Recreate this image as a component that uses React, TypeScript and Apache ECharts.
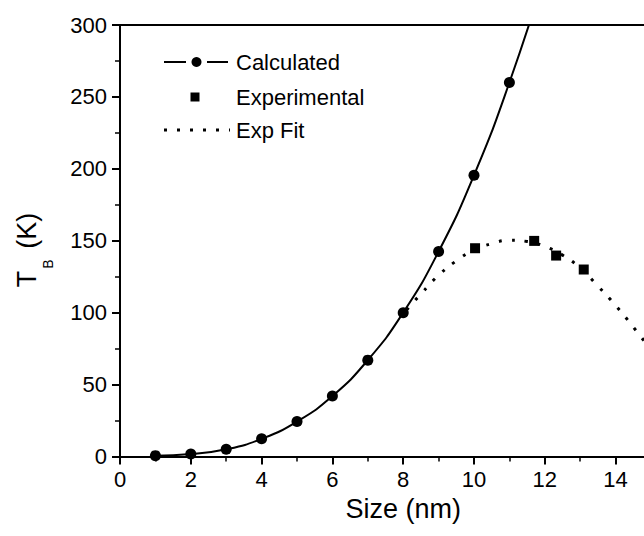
import { useEffect, useRef } from "react";
import * as echarts from "echarts";

// Calculated blocking temperature vs particle size
const calcSize = [1, 2, 3, 4, 5, 6, 7, 8, 9, 10, 11, 12];
const calcTb = [0.6, 1.7, 5, 12.3, 24.3, 42, 67, 100, 142.5, 195.5, 260, 335];

// Experimental points
const expSize = [10.03, 11.7, 12.32, 13.1];
const expTb = [144.8, 149.9, 139.7, 130];

// Fit through the experimental data
const fitSize = [8.1, 8.5, 9, 9.5, 10, 10.5, 11, 11.5, 12, 12.5, 13, 13.5, 14, 14.5, 15];
const fitTb = [102, 113, 126, 136, 143.5, 148, 150.3, 149.5, 146, 140, 131, 118.5, 105, 90, 74];

const legendNames = ["Calculated", "Experimental", "Exp Fit"];
const xTitle = "Size (nm)";

const FONT = "'Liberation Sans', Arial, Helvetica, sans-serif";
const INK = "#000";

export default function App() {
  const ref = useRef<HTMLDivElement>(null);

  useEffect(() => {
    if (!ref.current) return;
    const chart = echarts.init(ref.current, undefined, { renderer: "svg" });

    const axisCommon = {
      axisLine: { show: true, onZero: false, lineStyle: { color: INK, width: 2 } },
      axisTick: { show: true, inside: false, length: 8, lineStyle: { color: INK, width: 2 } },
      minorTick: { show: true, splitNumber: 2, length: 5, lineStyle: { color: INK, width: 1.5 } },
      splitLine: { show: false },
      minorSplitLine: { show: false },
    };

    chart.setOption({
      animation: false,
      backgroundColor: "#fff",
      textStyle: { fontFamily: FONT, color: INK },
      grid: { left: 120, top: 25, right: 13.6, bottom: 79.5, containLabel: false },
      xAxis: [
        {
          type: "value",
          min: 0,
          max: 16,
          interval: 2,
          ...axisCommon,
          axisLabel: { fontSize: 22, color: INK, margin: 12, fontFamily: FONT, showMaxLabel: false },
          name: xTitle,
          nameLocation: "middle",
          nameGap: 37,
          nameTextStyle: { fontSize: 27, color: INK, fontFamily: FONT },
        },
        {
          type: "value",
          position: "top",
          min: 0,
          max: 16,
          axisLine: { show: true, onZero: false, lineStyle: { color: INK, width: 2 } },
          axisTick: { show: false },
          axisLabel: { show: false },
          splitLine: { show: false },
        },
      ],
      yAxis: {
        type: "value",
        min: 0,
        max: 300,
        interval: 50,
        ...axisCommon,
        axisLabel: { fontSize: 22, color: INK, margin: 13, fontFamily: FONT },
      },
      series: [
        {
          name: legendNames[2],
          type: "line",
          data: fitSize.map((x, i) => [x, fitTb[i]]),
          smooth: true,
          symbol: "none",
          lineStyle: { color: INK, width: 3, type: [3, 10] },
          clip: true,
          z: 2,
        },
        {
          name: legendNames[0],
          type: "line",
          data: calcSize.map((x, i) => [x, calcTb[i]]),
          smooth: true,
          symbol: "circle",
          symbolSize: 11,
          itemStyle: { color: INK, opacity: 1 },
          lineStyle: { color: INK, width: 2 },
          clip: true,
          z: 3,
        },
        {
          name: legendNames[1],
          type: "scatter",
          data: expSize.map((x, i) => [x, expTb[i]]),
          symbol: "rect",
          symbolSize: 10,
          itemStyle: { color: INK, opacity: 1 },
          z: 4,
        },
      ],
      graphic: [
        // legend: calculated (line broken around the marker)
        { type: "line", shape: { x1: 164, y1: 62, x2: 186, y2: 62 }, style: { stroke: INK, lineWidth: 2 } },
        { type: "line", shape: { x1: 207, y1: 62, x2: 228, y2: 62 }, style: { stroke: INK, lineWidth: 2 } },
        { type: "circle", shape: { cx: 196.5, cy: 62, r: 5 }, style: { fill: INK } },
        {
          type: "text",
          x: 236,
          y: 62,
          style: { text: legendNames[0], fontSize: 22, fontFamily: FONT, fill: INK, verticalAlign: "middle", align: "left" },
        },
        // legend: experimental
        { type: "rect", shape: { x: 190.5, y: 92.5, width: 9, height: 9 }, style: { fill: INK } },
        {
          type: "text",
          x: 236,
          y: 97,
          style: { text: legendNames[1], fontSize: 22, fontFamily: FONT, fill: INK, verticalAlign: "middle", align: "left" },
        },
        // legend: fit
        {
          type: "line",
          shape: { x1: 164, y1: 130, x2: 230, y2: 130 },
          style: { stroke: INK, lineWidth: 3, lineDash: [3, 10] },
        },
        {
          type: "text",
          x: 236,
          y: 130,
          style: { text: legendNames[2], fontSize: 22, fontFamily: FONT, fill: INK, verticalAlign: "middle", align: "left" },
        },
        // y-axis title with subscript
        {
          type: "text",
          x: 28,
          y: 250,
          rotation: Math.PI / 2,
          style: {
            text: "{t|T}{s|B}{t| (K)}",
            fontFamily: FONT,
            fill: INK,
            align: "center",
            verticalAlign: "middle",
            rich: {
              t: { fontSize: 27, lineHeight: 30, verticalAlign: "top", fontFamily: FONT, fill: INK },
              s: {
                fontSize: 14,
                lineHeight: 14,
                verticalAlign: "top",
                padding: [28, 3, 0, 2],
                fontFamily: FONT,
                fill: INK,
              },
            },
          },
        },
      ],
    });

    return () => chart.dispose();
  }, []);

  return (
    <div
      style={{
        position: "fixed",
        left: 0,
        top: 0,
        width: 644,
        height: 536,
        overflow: "hidden",
        background: "#fff",
      }}
    >
      <div ref={ref} style={{ width: 700, height: 536 }} />
    </div>
  );
}
